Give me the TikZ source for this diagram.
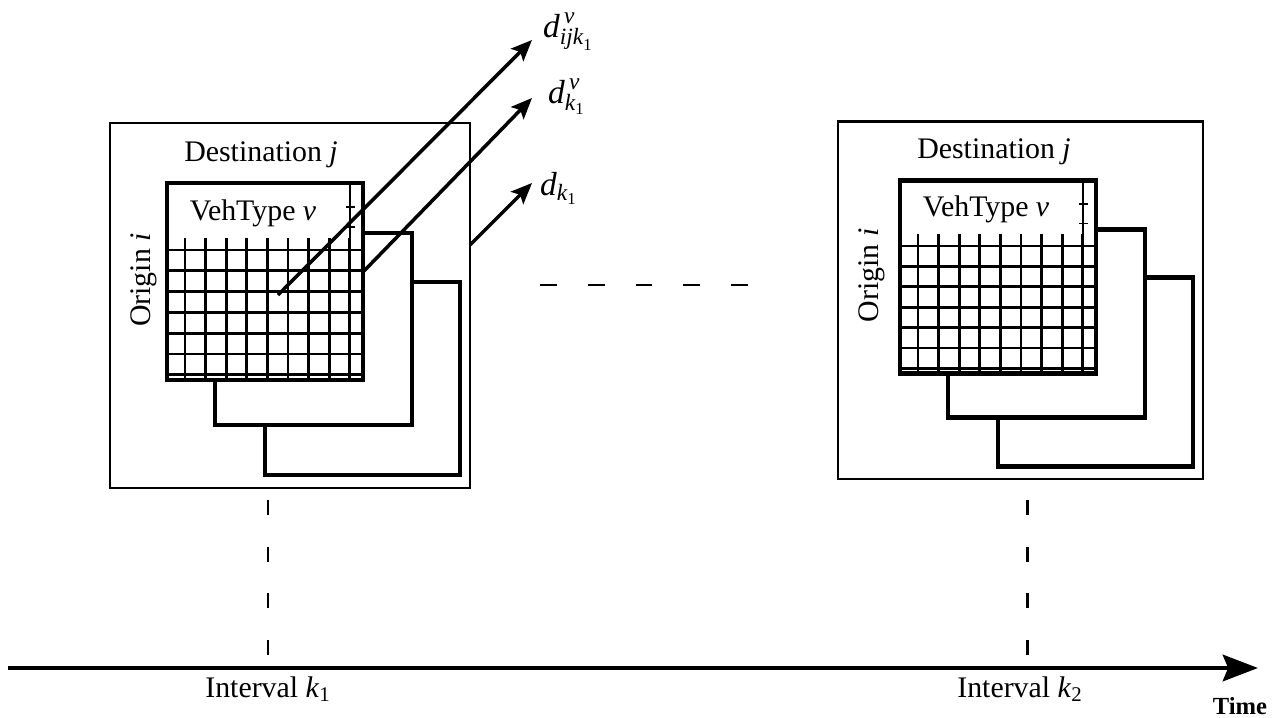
\documentclass[tikz,border=0pt]{standalone}
\usepackage{fontspec}
\setmainfont{Liberation Serif}
\usepackage{amsmath}
\usetikzlibrary{arrows.meta}

\tikzset{
  frame/.style={line width=1.2pt},
  layer/.style={draw, line width=2.6pt, fill=white},
  gridln/.style={line width=1.6pt},
  flow/.style={line width=2pt, -{Stealth[length=12pt,width=10pt,inset=2.5pt]}},
  lbl/.style={font=\fontsize{17}{20}\selectfont},
  dlbl/.style={font=\fontsize{19}{22}\selectfont},
  dashtick/.style={line width=1.7pt, dash pattern=on 8.5pt off 18.1pt},
}

% one O-D block: frame, three stacked matrices, grid, labels
% #1 name suffix, #2 left side of the frame
\newcommand{\odblock}[2]{%
  \draw[frame] (#2,123) rectangle (470,488);
  \draw[layer] (265,282) rectangle (460,475);
  \draw[layer] (215,233) rectangle (412,425);
  \draw[layer] (167,183) rectangle (363,380);
  \foreach \k in {0,...,6}
    \draw[gridln] (167,{250+20.8*\k}) -- (363,{250+20.8*\k});
  \foreach \k in {0,...,8}
    \draw[gridln] ({185+20.6*\k},238) -- ({185+20.6*\k},380);
  \draw[line width=0.7pt] (350,183) -- (350,238);
  \foreach \yy in {207,227}
    \draw[line width=0.9pt] (346,\yy) -- (355,\yy);
  \node[lbl, anchor=base] (dest#1) at (261,161) {Destination \textit{j}};
  \node[lbl, anchor=base] (veh#1) at (253,220) {VehType \textit{v}};
  \node[lbl, anchor=base, rotate=90] (orig#1) at ({#2+40},280) {Origin \textit{i}};
}

\begin{document}
\begin{tikzpicture}[x=0.02cm, y=-0.02cm]
    \useasboundingbox (0,0) rectangle (1285,717);

    \begin{scope}
        \odblock{L}{110}
    \end{scope}
    \begin{scope}[shift={(733,1)}, yscale=0.98]
        \odblock{R}{105}
    \end{scope}

    % demand arrows
    \coordinate (cellL) at (278,295);
    \coordinate (frontL) at (363,272);
    \coordinate (frameL) at (470,245);
    \coordinate (tipA) at (532,40);
    \coordinate (tipB) at (532,98);
    \coordinate (tipC) at (532,183);
    \draw[flow] (cellL) -- (tipA);
    \draw[flow] (frontL) -- (tipB);
    \draw[flow] (frameL) -- (tipC);
    \node[dlbl, anchor=base west] (dA) at (537,37)
        {$\textit{d}^{\,\textit{v}}_{\textit{ijk}_{\text{1}}}$};
    \node[dlbl, anchor=base west] (dB) at (542,103)
        {$\textit{d}^{\,\textit{v}}_{\textit{k}_{\text{1}}}$};
    \node[dlbl, anchor=base west] (dC) at (534,195)
        {$\textit{d}_{\textit{k}_{\text{1}}}$};

    % intervals in between
    \coordinate (gapL) at (540,285);
    \coordinate (gapR) at (750,285);
    \draw[line width=1.7pt, dash pattern=on 9.6pt off 17.6pt] (gapL) -- (gapR);

    % time axis
    \coordinate (axs) at (8,668);
    \coordinate (axe) at (1258,668);
    \draw[line width=2.6pt, -{Stealth[length=20pt,width=15pt,inset=3pt]}] (axs) -- (axe);
    \node[lbl, anchor=base] (intA) at (268,697) {Interval \textit{k}\textsubscript{1}};
    \node[lbl, anchor=base] (intB) at (1020,697) {Interval \textit{k}\textsubscript{2}};
    \node[font=\fontsize{14}{16}\selectfont\bfseries, anchor=base] (time) at (1240,714) {Time};
    \coordinate (tkA) at (268,500);
    \coordinate (tkB) at (1027,500);
    \draw[dashtick] (tkA) -- (tkA |- intA.north);
    \draw[dashtick] (tkB) -- (tkB |- intB.north);
\end{tikzpicture}
\end{document}
